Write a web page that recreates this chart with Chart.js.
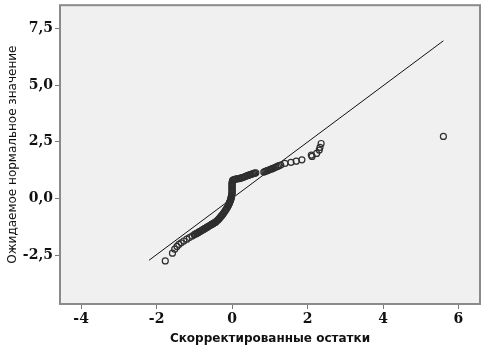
<!DOCTYPE html>
<html>
<head>
<meta charset="utf-8">
<script src="https://cdn.jsdelivr.net/npm/chart.js@4"></script>
<style>
    html, body { margin: 0; padding: 0; background: #fff; }
    #wrap { width: 492px; height: 356px; }
</style>
</head>
<body>
<div id="wrap"><canvas id="qqChart" width="492" height="356"></canvas></div>
<script>
// Скорректированные остатки (ось X)
const residX = [
    -1.77, -1.58, -1.52, -1.46, -1.41, -1.35, -1.28, -1.20, -1.13, -1.06,
    -1.00, -0.97, -0.94, -0.92, -0.90, -0.88, -0.86, -0.84, -0.82, -0.80,
    -0.78, -0.76, -0.74, -0.72, -0.70, -0.68, -0.66, -0.64, -0.62, -0.60,
    -0.58, -0.56, -0.54, -0.52, -0.50, -0.48, -0.46, -0.44, -0.42, -0.40,
    -0.38, -0.36, -0.34, -0.32, -0.30, -0.28, -0.26, -0.24, -0.22, -0.20,
    -0.18, -0.16, -0.14, -0.12, -0.10, -0.09, -0.08, -0.07, -0.06, -0.05,
    -0.04, -0.03, -0.03, -0.02, -0.02, -0.01, -0.01, 0.00, 0.00, 0.00,
    0.00, 0.00, 0.00, 0.00, 0.00, 0.00, 0.00, 0.00, 0.01, 0.02,
    0.04, 0.07, 0.10, 0.13, 0.17, 0.20, 0.24, 0.27, 0.30, 0.33,
    0.36, 0.39, 0.42, 0.45, 0.48, 0.51, 0.54, 0.57, 0.60, 0.63,
    0.84, 0.87, 0.90, 0.93, 0.96, 0.99, 1.02, 1.05, 1.08, 1.12,
    1.16, 1.20, 1.24, 1.29, 1.40, 1.56, 1.70, 1.85, 2.10, 2.12,
    2.24, 2.31, 2.33, 2.36,
    5.60
]
// Ожидаемое нормальное значение (ось Y)
const expectedY = [
    -2.76, -2.42, -2.24, -2.12, -2.03, -1.96, -1.88, -1.80, -1.73, -1.66,
    -1.60, -1.57, -1.55, -1.53, -1.51, -1.49, -1.47, -1.45, -1.43, -1.41,
    -1.39, -1.37, -1.35, -1.33, -1.31, -1.29, -1.27, -1.25, -1.23, -1.21,
    -1.19, -1.17, -1.15, -1.13, -1.11, -1.09, -1.07, -1.05, -1.02, -0.99,
    -0.96, -0.93, -0.89, -0.85, -0.81, -0.77, -0.73, -0.69, -0.64, -0.59,
    -0.54, -0.49, -0.44, -0.38, -0.32, -0.28, -0.24, -0.20, -0.16, -0.12,
    -0.08, -0.04, 0.00, 0.04, 0.08, 0.12, 0.16, 0.20, 0.25, 0.30,
    0.35, 0.40, 0.45, 0.50, 0.55, 0.60, 0.65, 0.70, 0.76, 0.80,
    0.82, 0.84, 0.85, 0.86, 0.87, 0.88, 0.90, 0.91, 0.93, 0.95,
    0.97, 0.99, 1.01, 1.03, 1.05, 1.06, 1.08, 1.10, 1.11, 1.13,
    1.16, 1.18, 1.20, 1.22, 1.24, 1.26, 1.28, 1.30, 1.32, 1.35,
    1.38, 1.41, 1.44, 1.47, 1.54, 1.59, 1.64, 1.70, 1.91, 1.85,
    1.98, 2.13, 2.25, 2.42,
    2.73
]
// Опорная линия
const lineX = [-2.2, 5.6]
const lineY = [-2.73, 6.95]

// Деления осей
const xTicks = [-4, -2, 0, 2, 4, 6]
const yTicks = [-2.5, 0, 2.5, 5, 7.5]

const ctx = document.getElementById('qqChart')

// Серый фон и рамка области построения
const plotFrame = {
    id: 'plotFrame',
    beforeDatasetsDraw(chart) {
        const { ctx: c, chartArea: a } = chart
        c.save()
        c.fillStyle = '#f0f0f0'
        c.fillRect(a.left, a.top, a.right - a.left, a.bottom - a.top)
        c.restore()
    },
    afterDraw(chart) {
        const { ctx: c, chartArea: a } = chart
        c.save()
        c.strokeStyle = '#8a8a8a'
        c.lineWidth = 2
        c.strokeRect(a.left, a.top, a.right - a.left, a.bottom - a.top)
        c.restore()
    },
}

const tickFont = { family: '"DejaVu Serif", serif', size: 14, weight: 'bold' }

// Убираем авто-отступы под подписи делений
function noPad(axis) {
    axis.paddingTop = 0
    axis.paddingBottom = 0
    axis.paddingLeft = 0
    axis.paddingRight = 0
}

// eslint-disable-next-line no-new, no-undef
new Chart(ctx, {
    type: 'scatter',
    data: {
        datasets: [
            {
                type: 'line',
                data: lineX.map((x, i) => ({ x, y: lineY[i] })),
                borderColor: '#111',
                borderWidth: 1,
                pointRadius: 0,
                fill: false,
                order: 2,
            },
            {
                data: residX.map((x, i) => ({ x, y: expectedY[i] })),
                pointRadius: 3,
                pointBorderWidth: 1.2,
                borderColor: '#2e2e2e',
                backgroundColor: 'rgba(0,0,0,0)',
                order: 1,
            },
        ],
    },
    options: {
        responsive: false,
        animation: false,
        layout: { padding: { top: 2, right: 12, left: 0, bottom: 0 } },
        plugins: {
            legend: { display: false },
            tooltip: { enabled: false },
        },
        scales: {
            x: {
                type: 'linear',
                min: -4.56,
                max: 6.57,
                afterBuildTicks: axis => { axis.ticks = xTicks.map(v => ({ value: v })) },
                afterFit: axis => { axis.height = 52; noPad(axis) },
                grid: { drawOnChartArea: false, drawTicks: true, tickLength: 5, color: '#777' },
                border: { display: false },
                ticks: { color: '#111', font: tickFont, padding: 2, autoSkip: false, maxRotation: 0 },
                title: {
                    display: true,
                    text: 'Скорректированные остатки',
                    color: '#111',
                    font: { family: '"DejaVu Sans", sans-serif', size: 12, weight: 'bold' },
                    padding: { top: 0, bottom: 10 },
                },
            },
            y: {
                type: 'linear',
                min: -4.66,
                max: 8.52,
                afterBuildTicks: axis => { axis.ticks = yTicks.map(v => ({ value: v })) },
                afterFit: axis => { axis.width = 60; noPad(axis) },
                grid: { drawOnChartArea: false, drawTicks: true, tickLength: 5, color: '#777' },
                border: { display: false },
                ticks: {
                    color: '#111',
                    font: tickFont,
                    padding: 2,
                    callback: v => v.toFixed(1).replace('.', ','),
                },
                title: {
                    display: true,
                    text: 'Ожидаемое нормальное значение',
                    color: '#111',
                    font: { family: '"DejaVu Sans", sans-serif', size: 12 },
                    padding: { top: 6, bottom: 0 },
                },
            },
        },
    },
    plugins: [plotFrame],
})
</script>
</body>
</html>
